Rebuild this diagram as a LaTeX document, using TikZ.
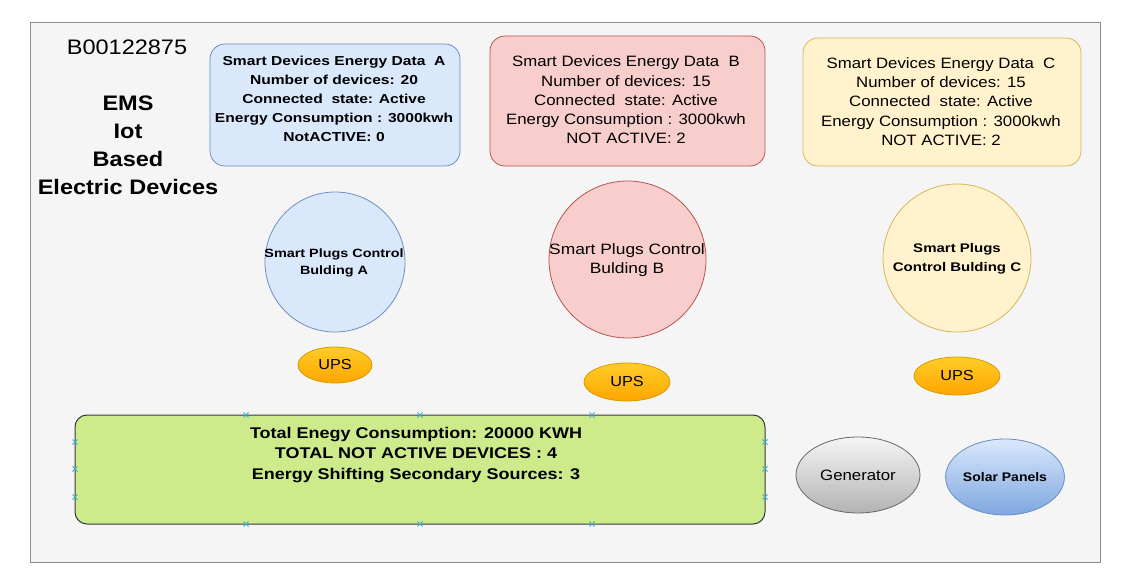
\documentclass[tikz,border=0pt]{standalone}
\usepackage{fontspec}
\setmainfont[FakeStretch=1.12]{Liberation Sans}
\newfontfamily\midw[FakeStretch=1.16]{Liberation Sans}
\newfontfamily\wider[FakeStretch=1.2]{Liberation Sans}
\usetikzlibrary{shapes.geometric}
\definecolor{bgray}{HTML}{F5F5F5}
\definecolor{frameg}{HTML}{8C8C8C}
\definecolor{afill}{HTML}{DAE8FC}
\definecolor{aline}{HTML}{6C8EBF}
\definecolor{bfill}{HTML}{F8CECC}
\definecolor{bline}{HTML}{B85450}
\definecolor{cfill}{HTML}{FFF2CC}
\definecolor{cline}{HTML}{D6B656}
\definecolor{gfill}{HTML}{CDEB8B}
\definecolor{gline}{HTML}{36393D}
\definecolor{upstop}{HTML}{FFCD28}
\definecolor{upsbot}{HTML}{FFA500}
\definecolor{upsline}{HTML}{D79B00}
\definecolor{gentop}{HTML}{F5F5F5}
\definecolor{genbot}{HTML}{B3B3B3}
\definecolor{genline}{HTML}{666666}
\definecolor{soltop}{HTML}{DAE8FC}
\definecolor{solbot}{HTML}{7EA6E0}
\definecolor{handle}{HTML}{3FA9D6}
\tikzset{
  databox/.style={draw, rounded corners=15pt, line width=0.8pt, align=center, inner sep=0pt},
  plug/.style={circle, draw, line width=0.8pt, align=center, inner sep=0pt},
  ups/.style={ellipse, draw=upsline, top color=upstop, bottom color=upsbot, line width=0.8pt, inner sep=0pt, minimum width=74pt, minimum height=36pt, font=\fontsize{14.5}{16}\selectfont},
  handlemark/.style={handle, line width=0.9pt},
}
\begin{document}
\begin{tikzpicture}[x=1pt,y=-1pt]
\useasboundingbox (0,0) rectangle (1128,583);
\fill[white] (0,0) rectangle (1128,583);
% frame
\node[draw=frameg, fill=bgray, line width=1pt, minimum width=1070pt, minimum height=539pt, inner sep=0pt] (frame) at (565,292.5) {};
% left texts
\node (id) at (127,47) {\fontsize{21}{22}\selectfont B00122875};
\node[align=center, font=\fontsize{21}{28}\selectfont\bfseries] (title) at (128,145) {EMS\\Iot\\Based\\Electric Devices};
% data boxes
\node[databox, draw=aline, fill=afill, minimum width=250pt, minimum height=122pt] (boxA) at (335,105) {};
\node[align=center, font=\wider\fontsize{13}{19}\selectfont\bfseries] (txtA) at (334,98.5) {Smart Devices Energy Data\ \ A\\Number of devices: 20\\Connected\ \ state: Active\\Energy Consumption : 3000kwh\\NotACTIVE: 0};
\node[databox, draw=bline, fill=bfill, minimum width=275pt, minimum height=130pt] (boxB) at (627.5,101) {};
\node[align=center, font=\fontsize{15}{19.2}\selectfont] (txtB) at (626,100) {Smart Devices Energy Data\ \ B\\Number of devices: 15\\Connected\ \ state: Active\\Energy Consumption : 3000kwh\\NOT ACTIVE: 2};
\node[databox, draw=cline, fill=cfill, minimum width=278pt, minimum height=128pt] (boxC) at (942,102) {};
\node[align=center, font=\fontsize{15}{19.2}\selectfont] (txtC) at (941,101.5) {Smart Devices Energy Data\ \ C\\Number of devices: 15\\Connected\ \ state: Active\\Energy Consumption : 3000kwh\\NOT ACTIVE: 2};
% circles
\node[plug, draw=aline, fill=afill, minimum size=140pt] (plugA) at (335,262) {};
\node[align=center, font=\wider\fontsize{12}{17}\selectfont\bfseries] (plugAt) at (334,262.5) {Smart Plugs Control\\Bulding A};
\node[plug, draw=bline, fill=bfill, minimum size=157pt] (plugB) at (627.5,259.5) {};
\node[align=center, font=\midw\fontsize{15}{19}\selectfont] (plugBt) at (627,260.5) {Smart Plugs Control\\Bulding B};
\node[plug, draw=cline, fill=cfill, minimum size=148pt] (plugC) at (957,258) {};
\node[align=center, font=\wider\fontsize{12.5}{19}\selectfont\bfseries] (plugCt) at (957,258.5) {Smart Plugs\\Control Bulding C};
% UPS
\node[ups] (upsA) at (335,365) {UPS};
\node[ups, minimum width=86pt, minimum height=38pt] (upsB) at (627,382) {UPS};
\node[ups, minimum width=86pt, minimum height=38pt] (upsC) at (957,376) {UPS};
% green total box
\node[draw=gline, fill=gfill, rounded corners=12pt, line width=1pt, minimum width=690pt, minimum height=109pt, inner sep=0pt] (total) at (420,469.5) {};
\node[align=center, font=\midw\fontsize{15.5}{20.5}\selectfont\bfseries] (totalt) at (416,455) {Total Enegy Consumption: 20000 KWH\\TOTAL NOT ACTIVE DEVICES : 4\\Energy Shifting Secondary Sources: 3};
% selection handles
\foreach \p in {(246,415),(420,415),(592,415),(246,524),(420,524),(592,524),(75,442),(75,469),(75,497),(765,442),(765,469),(765,497)}{
  \draw[handlemark] \p ++(-2.5,-2.5) -- ++(5,5) \p ++(-2.5,2.5) -- ++(5,-5);
}
% sources
\node[ellipse, draw=genline, top color=gentop, bottom color=genbot, line width=0.8pt, minimum width=124pt, minimum height=76pt, inner sep=0pt, font=\fontsize{15}{16}\selectfont] (gen) at (858,475) {Generator};
\node[ellipse, draw=aline, top color=soltop, bottom color=solbot, line width=0.8pt, minimum width=116pt, minimum height=76pt, inner sep=0pt, font=\fontsize{12.5}{14}\selectfont\bfseries] (solar) at (1005,477) {Solar Panels};
\end{tikzpicture}
\end{document}
